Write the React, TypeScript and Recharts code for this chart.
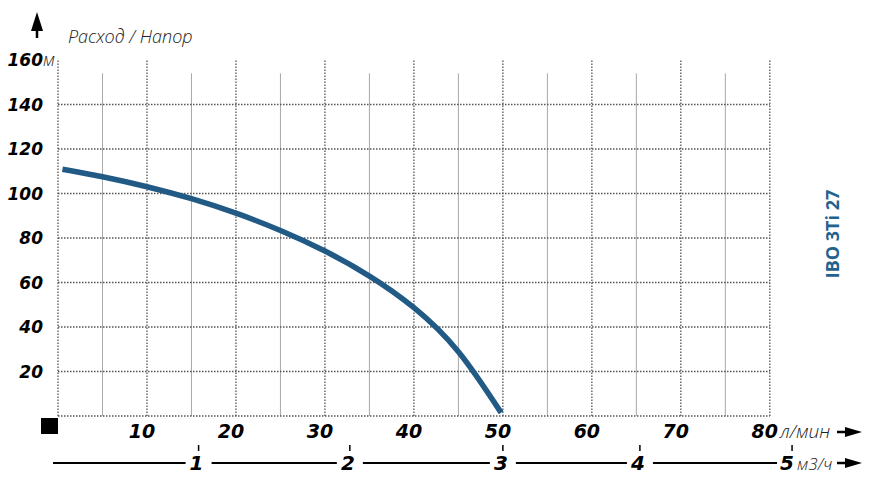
import React from 'react';
import { LineChart, Line, XAxis, YAxis, ReferenceLine, Customized } from 'recharts';

// Flow (л/мин) and head (м)
const FLOW = [0.5, 5, 10, 15, 20, 25, 30, 35, 40, 45, 49.8];
const HEAD = [110.9, 107.55, 103.05, 97.65, 91.15, 83.4, 74.15, 62.9, 48.7, 28.9, 1.5];

const Y_TICKS = [0, 20, 40, 60, 80, 100, 120, 140, 160];
const LPM_TICKS = [10, 20, 30, 40, 50, 60, 70, 80];
const M3_LABELS = ['1', '2', '3', '4', '5'];
const M3_POS_LPM = [15.8, 32.8, 50, 65.4, 82.5];
const H_GRID = [0, 20, 40, 60, 80, 100, 120, 140];
const MAJOR_V = [0, 10, 20, 30, 40, 50, 60, 70, 80];
const MINOR_V = [5, 15, 25, 35, 45, 55, 65, 75];

const data = FLOW.map((q, i) => ({ q, h: HEAD[i] }));

const FONT = '"Open Sans", "DejaVu Sans", sans-serif';
const NUM_FONT = '"DejaVu Sans", sans-serif';
const CURVE = '#215b85';

const YTick = (props: any) => {
  const { y, payload } = props;
  if (payload.value === 0) {
    return <rect x={41} y={y + 2} width={17} height={16} fill="#000" />;
  }
  return (
    <g>
      <text x={43} y={y} dy={6} textAnchor="end" fontFamily={NUM_FONT} fontSize={17} fontWeight={700} fontStyle="italic" fill="#000">
        {payload.value}
      </text>
      {payload.value === 160 && (
        <text x={43} y={y} dy={6} textAnchor="start" fontFamily={FONT} fontSize={18} fontWeight={300} fontStyle="italic" fill="#222">
          м
        </text>
      )}
    </g>
  );
};

const LpmTick = (props: any) => {
  const { x, payload } = props;
  const last = payload.value === 80;
  return (
    <g>
      <text x={x - 5} y={438} textAnchor="middle" fontFamily={NUM_FONT} fontSize={19} fontWeight={700} fontStyle="italic" fill="#000">
        {payload.value}
      </text>
      {last && (
        <g>
          <text x={780} y={438} textAnchor="start" fontFamily={FONT} fontSize={19} fontWeight={300} fontStyle="italic" fill="#222">
            л/мин
          </text>
          <line x1={837} y1={432} x2={848} y2={432} stroke="#000" strokeWidth={2.5} />
          <polygon points="845,427 862,432 845,437" fill="#000" />
        </g>
      )}
    </g>
  );
};

const M3Tick = (props: any) => {
  const { x, index } = props;
  const last = index === M3_LABELS.length - 1;
  return (
    <g>
      <rect x={last ? x - 15 : x - 13} y={455} width={last ? 200 : 26} height={16} fill="#fff" />
      <line x1={x} y1={445} x2={x} y2={451} stroke="#000" strokeWidth={1.5} />
      <text x={last ? x - 5 : x - 2} y={470} textAnchor="middle" fontFamily={NUM_FONT} fontSize={20} fontWeight={700} fontStyle="italic" fill="#000">
        {M3_LABELS[index]}
      </text>
      {last && (
        <g>
          <text x={797} y={470} textAnchor="start" fontFamily={FONT} fontSize={17} fontWeight={300} fontStyle="italic" fill="#222">
            м3/ч
          </text>
          <line x1={837} y1={463} x2={848} y2={463} stroke="#000" strokeWidth={2.5} />
          <polygon points="845,458 862,463 845,468" fill="#000" />
        </g>
      )}
    </g>
  );
};

const Decor = () => (
  <g>
    <polygon points="37,12 31,31 43,31" fill="#000" />
    <line x1={37} y1={29} x2={37} y2={38} stroke="#000" strokeWidth={2.5} />
    <line x1={53} y1={463} x2={59} y2={463} stroke="#000" strokeWidth={2} />
    <text x={68} y={43} fontFamily={FONT} fontSize={18} fontWeight={300} fontStyle="italic" fill="#222">
      Расход / Напор
    </text>
    <text
      x={832}
      y={234}
      transform="rotate(-90 832 234)"
      textAnchor="middle"
      dominantBaseline="central"
      fontFamily={FONT}
      fontSize={18}
      fontWeight={700}
      fill="#23628e"
    >
      IBO 3Ti 27
    </text>
  </g>
);

export default function App() {
  return (
    <div style={{ position: 'absolute', left: 0, top: 0, width: 876, height: 484, background: '#fff' }}>
      <LineChart width={876} height={484} data={data} margin={{ top: 60, right: 35, bottom: 0, left: 0 }}>
        <XAxis
          xAxisId="lpm"
          type="number"
          dataKey="q"
          domain={[0, 88]}
          ticks={LPM_TICKS}
          interval={0}
          axisLine={false}
          tickLine={false}
          height={47}
          tick={LpmTick}
        />
        <XAxis
          xAxisId="m3"
          type="number"
          dataKey="q"
          domain={[0, 88]}
          ticks={M3_POS_LPM}
          interval={0}
          axisLine={{ stroke: '#000', strokeWidth: 2 }}
          tickLine={false}
          height={21}
          tick={M3Tick}
        />
        <YAxis
          type="number"
          domain={[0, 160]}
          ticks={Y_TICKS}
          interval={0}
          width={58}
          axisLine={false}
          tickLine={false}
          tick={YTick}
        />
        {MINOR_V.map((v) => (
          <ReferenceLine
            key={'mi' + v}
            xAxisId="lpm"
            segment={[{ x: v, y: 0 }, { x: v, y: 154 }]}
            stroke="#a8a8a8"
            strokeWidth={1}
          />
        ))}
        {H_GRID.map((v) => (
          <ReferenceLine
            key={'h' + v}
            xAxisId="lpm"
            segment={[{ x: 0, y: v }, { x: 80, y: v }]}
            stroke="#555"
            strokeWidth={1.3}
            strokeDasharray="1.5 1.5"
          />
        ))}
        {MAJOR_V.map((v) => (
          <ReferenceLine
            key={'ma' + v}
            xAxisId="lpm"
            segment={[{ x: v, y: 0 }, { x: v, y: 160 }]}
            stroke="#555"
            strokeWidth={1.3}
            strokeDasharray="1.5 1.5"
          />
        ))}
        <Line
          xAxisId="lpm"
          type="natural"
          dataKey="h"
          stroke={CURVE}
          strokeWidth={5.5}
          dot={false}
          activeDot={false}
          isAnimationActive={false}
        />
        <Customized component={Decor} />
      </LineChart>
    </div>
  );
}
